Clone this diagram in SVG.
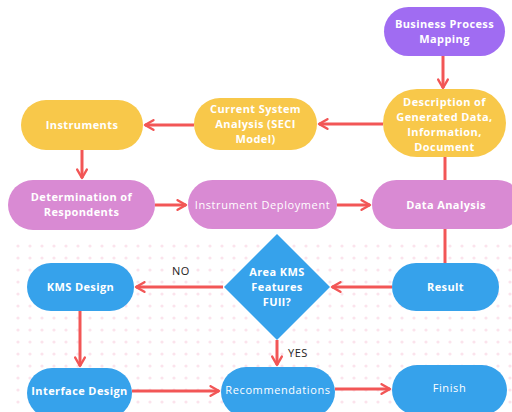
<svg xmlns="http://www.w3.org/2000/svg" width="512" height="412" viewBox="0 0 512 412">
<defs>
<style>
.t{font-family:"Open Sans","Liberation Sans",sans-serif;font-size:11px;font-weight:700;fill:#fff;text-anchor:middle;letter-spacing:0.4px}
.r{font-weight:400;letter-spacing:0.6px}
.l{font-family:"Open Sans","Liberation Sans",sans-serif;font-size:11px;fill:#222;letter-spacing:0.5px}
.c{stroke:#f25656;stroke-width:3;fill:none}
.a{stroke:#f25656;stroke-width:3;fill:none;marker-end:url(#ah)}
.y{fill:#f8c84a}.p{fill:#a06cf2}.m{fill:#d98ad3}.b{fill:#36a2eb}
</style>
<marker id="ah" viewBox="0 0 10 10" refX="8" refY="5" markerWidth="4" markerHeight="4" orient="auto" markerUnits="strokeWidth">
<path d="M1,1 L8,5 L1,9" fill="none" stroke="#f25656" stroke-width="2" stroke-linecap="round" stroke-linejoin="round"/>
</marker>
<pattern id="dots" width="12" height="12" patternUnits="userSpaceOnUse">
<circle cx="6" cy="6" r="1.6" fill="#fbe3ec"/>
</pattern>
</defs>
<rect width="512" height="412" fill="#fff"/>
<rect x="10" y="240" width="502" height="172" fill="url(#dots)"/>
<g id="connectors">
<path class="a" d="M443,56 V88"/>
<path class="a" d="M383,124 H319"/>
<path class="a" d="M194,125 H145"/>
<path class="a" d="M82,150 V178"/>
<path class="a" d="M155,205 H186"/>
<path class="a" d="M337,205 H370"/>
<path class="c" d="M445,157 V263"/>
<path class="a" d="M392,287 H332"/>
<path class="a" d="M223,287 H136"/>
<path class="a" d="M80,311 V366"/>
<path class="a" d="M277,340 V365"/>
<path class="a" d="M132,391 H219"/>
<path class="a" d="M335,389 H390"/>
</g>
<g id="bpm"><rect class="p" x="384" y="7" width="121" height="49" rx="24.5"/>
<text class="t" x="444.5" y="28">Business Process</text><text class="t" x="444.5" y="43">Mapping</text></g>
<g id="description"><rect class="y" x="383" y="89" width="123" height="68" rx="34"/>
<text class="t" x="444.5" y="106">Description of</text><text class="t" x="444.5" y="121">Generated Data,</text><text class="t" x="444.5" y="136">Information,</text><text class="t" x="444.5" y="151">Document</text></g>
<g id="csa"><rect class="y" x="194" y="98" width="123" height="52" rx="26"/>
<text class="t" x="255.5" y="113">Current System</text><text class="t" x="255.5" y="128">Analysis (SECI</text><text class="t" x="255.5" y="143">Model)</text></g>
<g id="instruments"><rect class="y" x="21" y="100" width="122" height="50" rx="25"/>
<text class="t" x="82" y="129">Instruments</text></g>
<g id="respondents"><rect class="m" x="8" y="180" width="147" height="50" rx="25"/>
<text class="t" x="81.5" y="201">Determination of</text><text class="t" x="81.5" y="216">Respondents</text></g>
<g id="deployment"><rect class="m" x="188" y="180" width="149" height="49" rx="24.5"/>
<text class="t r" x="262.5" y="209">Instrument Deployment</text></g>
<g id="analysis"><rect class="m" x="372" y="180" width="150" height="49" rx="24.5"/>
<text class="t" x="446" y="209">Data Analysis</text></g>
<g id="result"><rect class="b" x="392" y="263" width="107" height="48" rx="24"/>
<text class="t" x="445.5" y="291">Result</text></g>
<g id="decision"><path class="b" d="M277,234 L330,287 L277,340 L224,287 Z"/>
<text class="t" x="277" y="276">Area KMS</text><text class="t" x="277" y="291">Features</text><text class="t" x="277" y="306">FUll?</text></g>
<g id="kms"><rect class="b" x="27" y="263" width="107" height="48" rx="24"/>
<text class="t" x="80.5" y="291">KMS Design</text></g>
<g id="interface"><rect class="b" x="27" y="368" width="105" height="50" rx="25"/>
<text class="t" x="79.5" y="395">Interface Design</text></g>
<g id="recommendations"><rect class="b" x="221" y="367" width="114" height="50" rx="25"/>
<text class="t r" x="278" y="394">Recommendations</text></g>
<g id="finish"><rect class="b" x="392" y="365" width="115" height="50" rx="25"/>
<text class="t r" x="449.5" y="392">Finish</text></g>
<text class="l" x="172" y="275">NO</text>
<text class="l" x="288" y="357">YES</text>
</svg>
